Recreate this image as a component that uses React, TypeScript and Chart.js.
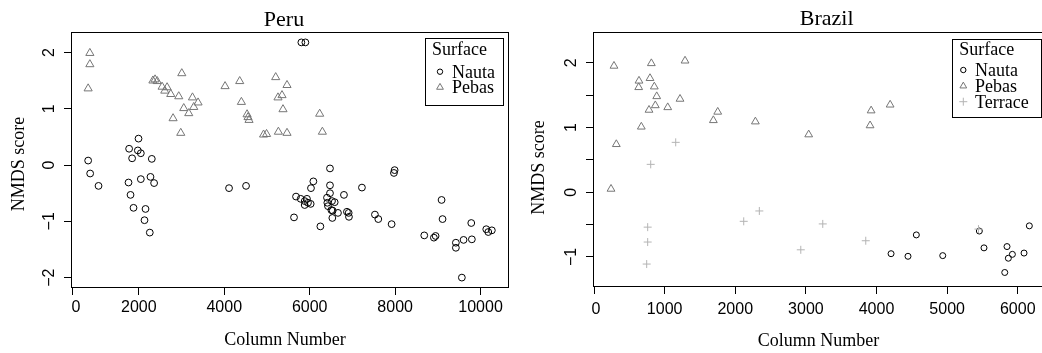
import React, { useEffect, useRef } from "react";
import { Chart, registerables } from "chart.js";

Chart.register(...registerables);

// ---------------- Peru ----------------
const peruNautaX = [814, 861, 1057, 1993, 1773, 1977, 2047, 1843, 2304, 1759, 2047, 2273, 2358, 1806, 1876, 2157, 2133, 2257, 4112, 4510, 5633, 5680, 5789, 5883, 5936, 5883, 5960, 6023, 6030, 6086, 5805, 5899, 6250, 6475, 6475, 6475, 6405, 6413, 6428, 6522, 6585, 6507, 6538, 6530, 6662, 6802, 6872, 6912, 6919, 7223, 7527, 7606, 7918, 7972, 7988, 8682, 8907, 8947, 9087, 9110, 9422, 9422, 9602, 9796, 9782, 9562, 10133, 10180, 10264];
const peruNautaY = [0.08, -0.15, -0.37, 0.47, 0.29, 0.26, 0.21, 0.12, 0.11, -0.31, -0.25, -0.21, -0.32, -0.53, -0.76, -0.78, -0.98, -1.2, -0.41, -0.37, -0.93, -0.56, -0.6, -0.64, -0.6, -0.71, -0.67, -0.69, -0.41, -0.29, 2.18, 2.18, -1.09, -0.06, -0.36, -0.5, -0.58, -0.67, -0.73, -0.64, -0.66, -0.8, -0.81, -0.94, -0.85, -0.53, -0.83, -0.85, -0.92, -0.4, -0.88, -0.96, -1.05, -0.14, -0.09, -1.25, -1.29, -1.26, -0.62, -0.96, -1.38, -1.47, -1.33, -1.32, -1.03, -2.0, -1.14, -1.19, -1.16];
const peruPebasX = [854, 854, 814, 2330, 2380, 2430, 2545, 2608, 2662, 2748, 2935, 3006, 2802, 2982, 3052, 3169, 3256, 3286, 3387, 4019, 4362, 4401, 4534, 4557, 4580, 4920, 4990, 5204, 5258, 5352, 5375, 5469, 5267, 5469, 6234, 6297];
const peruPebasY = [1.99, 1.79, 1.36, 1.5, 1.52, 1.49, 1.39, 1.32, 1.38, 1.26, 1.22, 1.63, 0.83, 0.57, 1.01, 0.92, 1.2, 1.03, 1.11, 1.4, 1.49, 1.12, 0.9, 0.85, 0.8, 0.54, 0.55, 1.56, 1.2, 1.24, 0.99, 1.42, 0.59, 0.57, 0.91, 0.59];

const peruXMin = 436;
const peruXMax = 10642;
const peruYMin = -2.167;
const peruYMax = 2.347;
const peruXTicks = [436, 2000, 4000, 6000, 8000, 10000];
const peruXTickLabels = ["0", "2000", "4000", "6000", "8000", "10000"];
const peruYTicks = [-2, -1, 0, 1, 2];
const peruYTickLabels = ["\u22122", "\u22121", "0", "1", "2"];

// ---------------- Brazil ----------------
const brazilNautaX = [4206, 4446, 4564, 4938, 5456, 5522, 5848, 5867, 5924, 6089, 6164, 5816];
const brazilNautaY = [-0.95, -0.99, -0.66, -0.98, -0.6, -0.86, -0.84, -1.02, -0.96, -0.94, -0.52, -1.24];
const brazilPebasX = [283, 812, 1289, 637, 633, 793, 854, 888, 1218, 868, 779, 1044, 670, 316, 241, 1752, 1690, 2285, 3040, 3924, 3909, 4193];
const brazilPebasY = [1.95, 1.99, 2.03, 1.72, 1.62, 1.76, 1.63, 1.48, 1.44, 1.34, 1.27, 1.31, 1.01, 0.74, 0.05, 1.24, 1.11, 1.09, 0.89, 1.26, 1.03, 1.35];
const brazilTerraceX = [803, 1157, 760, 760, 746, 2120, 2341, 2928, 3239, 3848, 5444];
const brazilTerraceY = [0.43, 0.77, -0.54, -0.77, -1.11, -0.45, -0.29, -0.89, -0.49, -0.75, -0.57];

const brazilXMin = 0;
const brazilXMax = 6400;
const brazilYMin = -1.449;
const brazilYMax = 2.459;
const brazilXTicks = [0, 1000, 2000, 3000, 4000, 5000, 6000];
const brazilXTickLabels = ["0", "1000", "2000", "3000", "4000", "5000", "6000"];
const brazilYTicks = [-1, -0.5, 0, 0.5, 1, 1.5, 2];
const brazilYTickLabels = ["\u22121", "", "0", "", "1", "", "2"];

const surfaceLabels = ["Nauta", "Pebas", "Terrace"];

const NAUTA_COLOR = "#000000";
const PEBAS_COLOR = "#767676";
const TERRACE_COLOR = "#b4b4b4";

const SERIF = '"Liberation Serif", "Times New Roman", serif';
const SANS = '"Liberation Sans", Arial, sans-serif';

type Style = "circle" | "triangle" | "cross";

function zip(xs: number[], ys: number[]) {
  return xs.map((x, i) => ({ x, y: ys[i] }));
}

function drawMarker(ctx: CanvasRenderingContext2D, style: Style, x: number, y: number, r: number, color: string) {
  ctx.save();
  ctx.strokeStyle = color;
  ctx.lineWidth = 1;
  ctx.beginPath();
  if (style === "circle") {
    ctx.arc(x, y, r, 0, Math.PI * 2);
  } else if (style === "triangle") {
    for (let k = 0; k < 3; k++) {
      const a = (k * 2 * Math.PI) / 3;
      const px = x + Math.sin(a) * r;
      const py = y - Math.cos(a) * r;
      if (k === 0) ctx.moveTo(px, py);
      else ctx.lineTo(px, py);
    }
    ctx.closePath();
  } else {
    ctx.moveTo(x - r, y);
    ctx.lineTo(x + r, y);
    ctx.moveTo(x, y - r);
    ctx.lineTo(x, y + r);
  }
  ctx.stroke();
  ctx.restore();
}

type LegendItem = { label: string; style: Style; color: string; r: number };

type Decor = {
  title: string;
  titleX: number;
  titleBase: number;
  xTitle: string;
  xTitleX: number;
  xTitleBase: number;
  yTitle: string;
  yTitleBaseX: number;
  yTitleY: number;
  xLabels: string[];
  xLabelBase: number;
  xLabelNudge: number[];
  yLabels: string[];
  yLabelOffset: number;
  legendBox: [number, number, number, number];
  legendTitleX: number;
  legendTitleBase: number;
  legendMarkerX: number;
  legendTextX: number;
  legendRows: number[];
  legendItems: LegendItem[];
};

function makeDecor(d: Decor) {
  return {
    id: "rDecor",
    afterDraw(chart: any) {
      const ctx: CanvasRenderingContext2D = chart.ctx;
      const a = chart.chartArea;
      ctx.save();
      // plot box
      ctx.strokeStyle = "#000";
      ctx.lineWidth = 1;
      const L = Math.round(a.left) - 0.5;
      const R = Math.round(a.right) + 0.5;
      const T = Math.round(a.top) - 0.5;
      const B = Math.round(a.bottom) + 0.5;
      ctx.strokeRect(L, T, R - L, B - T);

      ctx.fillStyle = "#000";
      // x tick labels
      const xs = chart.scales.x;
      ctx.font = `16px ${SANS}`;
      ctx.textAlign = "center";
      ctx.textBaseline = "alphabetic";
      xs.ticks.forEach((t: any, i: number) => {
        const lab = d.xLabels[i];
        if (!lab) return;
        ctx.fillText(lab, xs.getPixelForValue(t.value) + (d.xLabelNudge[i] || 0), d.xLabelBase);
      });
      // y tick labels (rotated)
      const ys = chart.scales.y;
      ys.ticks.forEach((t: any, i: number) => {
        const lab = d.yLabels[i];
        if (!lab) return;
        ctx.save();
        ctx.translate(a.left - d.yLabelOffset, ys.getPixelForValue(t.value));
        ctx.rotate(-Math.PI / 2);
        ctx.textAlign = "center";
        ctx.textBaseline = "alphabetic";
        ctx.fillText(lab, 0, 0);
        ctx.restore();
      });

      // title
      ctx.font = `22px ${SERIF}`;
      ctx.textAlign = "center";
      ctx.fillText(d.title, d.titleX, d.titleBase);
      // x title
      ctx.font = `18px ${SERIF}`;
      ctx.fillText(d.xTitle, d.xTitleX, d.xTitleBase);
      // y title
      ctx.save();
      ctx.translate(d.yTitleBaseX, d.yTitleY);
      ctx.rotate(-Math.PI / 2);
      ctx.textAlign = "center";
      ctx.textBaseline = "alphabetic";
      ctx.fillText(d.yTitle, 0, 0);
      ctx.restore();

      // legend
      const [lx0, ly0, lx1, ly1] = d.legendBox;
      ctx.fillStyle = "#fff";
      ctx.fillRect(lx0, ly0, lx1 - lx0, ly1 - ly0);
      ctx.strokeStyle = "#000";
      ctx.strokeRect(lx0, ly0, lx1 - lx0, ly1 - ly0);
      ctx.fillStyle = "#000";
      ctx.font = `18px ${SERIF}`;
      ctx.textAlign = "left";
      ctx.fillText("Surface", d.legendTitleX, d.legendTitleBase);
      d.legendItems.forEach((it, i) => {
        const cy = d.legendRows[i];
        drawMarker(ctx, it.style, d.legendMarkerX, cy, it.r, it.color);
        ctx.fillStyle = "#000";
        ctx.fillText(it.label, d.legendTextX, cy + 5.8);
      });
      ctx.restore();
    },
  };
}

type PanelCfg = {
  width: number;
  padRight: number;
  yWidth: number;
  xHeight: number;
  xMin: number;
  xMax: number;
  yMin: number;
  yMax: number;
  xTicks: number[];
  yTicks: number[];
  datasets: any[];
  decor: Decor;
};

function buildConfig(p: PanelCfg): any {
  return {
    type: "scatter",
    data: { datasets: p.datasets },
    options: {
      animation: false,
      responsive: false,
      devicePixelRatio: 1,
      events: [],
      layout: { padding: { top: 33, right: p.padRight, left: 0, bottom: 0 } },
      plugins: {
        legend: { display: false },
        tooltip: { enabled: false },
        title: { display: false },
      },
      scales: {
        x: {
          type: "linear",
          position: "bottom",
          min: p.xMin,
          max: p.xMax,
          afterBuildTicks: (s: any) => {
            s.ticks = p.xTicks.map((v) => ({ value: v }));
          },
          afterFit: (s: any) => {
            s.height = p.xHeight;
          },
          ticks: { display: false },
          grid: { display: true, drawOnChartArea: false, drawTicks: true, tickLength: 8, color: "#000", lineWidth: 1 },
          border: { display: false },
        },
        y: {
          type: "linear",
          position: "left",
          min: p.yMin,
          max: p.yMax,
          afterBuildTicks: (s: any) => {
            s.ticks = p.yTicks.map((v) => ({ value: v }));
          },
          afterFit: (s: any) => {
            s.width = p.yWidth;
          },
          ticks: { display: false },
          grid: { display: true, drawOnChartArea: false, drawTicks: true, tickLength: 8, color: "#000", lineWidth: 1 },
          border: { display: false },
        },
      },
    },
    plugins: [makeDecor(p.decor)],
  };
}

function ds(label: string, xs: number[], ys: number[], style: Style, color: string, r: number) {
  return {
    label,
    data: zip(xs, ys),
    showLine: false,
    pointStyle: style,
    pointRadius: r,
    pointBorderWidth: 1,
    pointBorderColor: color,
    pointBackgroundColor: "rgba(0,0,0,0)",
    clip: false,
  };
}

const peruCfg: PanelCfg = {
  width: 520,
  padRight: 12,
  yWidth: 72,
  xHeight: 66,
  xMin: peruXMin,
  xMax: peruXMax,
  yMin: peruYMin,
  yMax: peruYMax,
  xTicks: peruXTicks,
  yTicks: peruYTicks,
  datasets: [
    ds(surfaceLabels[1], peruPebasX, peruPebasY, "triangle", PEBAS_COLOR, 4.7),
    ds(surfaceLabels[0], peruNautaX, peruNautaY, "circle", NAUTA_COLOR, 3.4),
  ],
  decor: {
    title: "Peru",
    titleX: 284,
    titleBase: 25.5,
    xTitle: "Column Number",
    xTitleX: 285,
    xTitleBase: 345,
    yTitle: "NMDS score",
    yTitleBaseX: 24,
    yTitleY: 164,
    xLabels: peruXTickLabels,
    xLabelBase: 312,
    xLabelNudge: [4, 0, 0, 0, 0, 0],
    yLabels: peruYTickLabels,
    yLabelOffset: 18,
    legendBox: [425.5, 38.5, 503.5, 105.5],
    legendTitleX: 432,
    legendTitleBase: 55,
    legendMarkerX: 440,
    legendTextX: 452,
    legendRows: [71.7, 87.3],
    legendItems: [
      { label: surfaceLabels[0], style: "circle", color: NAUTA_COLOR, r: 2.7 },
      { label: surfaceLabels[1], style: "triangle", color: PEBAS_COLOR, r: 3.9 },
    ],
  },
};

const brazilCfg: PanelCfg = {
  width: 532,
  padRight: 6,
  yWidth: 74,
  xHeight: 67,
  xMin: brazilXMin,
  xMax: brazilXMax,
  yMin: brazilYMin,
  yMax: brazilYMax,
  xTicks: brazilXTicks,
  yTicks: brazilYTicks,
  datasets: [
    ds(surfaceLabels[2], brazilTerraceX, brazilTerraceY, "cross", TERRACE_COLOR, 4.0),
    ds(surfaceLabels[1], brazilPebasX, brazilPebasY, "triangle", PEBAS_COLOR, 4.5),
    ds(surfaceLabels[0], brazilNautaX, brazilNautaY, "circle", NAUTA_COLOR, 3.0),
  ],
  decor: {
    title: "Brazil",
    titleX: 306.7,
    titleBase: 25,
    xTitle: "Column Number",
    xTitleX: 298.5,
    xTitleBase: 345.5,
    yTitle: "NMDS score",
    yTitleBaseX: 24,
    yTitleY: 167.5,
    xLabels: brazilXTickLabels,
    xLabelBase: 314,
    xLabelNudge: [2, 0, 0, 0, 0, 0, 0],
    yLabels: brazilYTickLabels,
    yLabelOffset: 18,
    legendBox: [432.5, 39.5, 521.5, 117.5],
    legendTitleX: 439.3,
    legendTitleBase: 55,
    legendMarkerX: 443.3,
    legendTextX: 455,
    legendRows: [70, 86, 101.7],
    legendItems: [
      { label: surfaceLabels[0], style: "circle", color: NAUTA_COLOR, r: 2.7 },
      { label: surfaceLabels[1], style: "triangle", color: PEBAS_COLOR, r: 3.9 },
      { label: surfaceLabels[2], style: "cross", color: TERRACE_COLOR, r: 4.0 },
    ],
  },
};

function Panel({ cfg, left }: { cfg: PanelCfg; left: number }) {
  const ref = useRef<HTMLCanvasElement | null>(null);
  useEffect(() => {
    if (!ref.current) return;
    const chart = new Chart(ref.current, buildConfig(cfg));
    return () => chart.destroy();
  }, [cfg]);
  return (
    <canvas
      ref={ref}
      width={cfg.width}
      height={353}
      style={{ position: "absolute", left, top: 0, width: cfg.width, height: 353 }}
    />
  );
}

export default function App() {
  return (
    <div
      style={{
        position: "absolute",
        left: 0,
        top: 0,
        width: 1042,
        height: 353,
        overflow: "hidden",
        background: "#ffffff",
      }}
    >
      <Panel cfg={peruCfg} left={0} />
      <Panel cfg={brazilCfg} left={520} />
    </div>
  );
}
